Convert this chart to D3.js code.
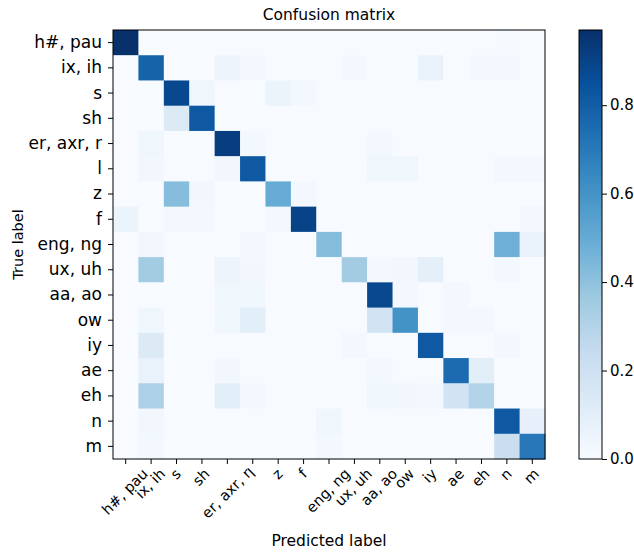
<!DOCTYPE html>
<html>
<head>
<meta charset="utf-8">
<script src="https://cdn.jsdelivr.net/npm/d3@7"></script>
<style>
  body { margin: 0; background: #fff; }
  svg text { font-family: "DejaVu Sans", sans-serif; fill: #000; }
</style>
</head>
<body>
<script>
// class names (rows = true label, columns = predicted label)
var classes = ["h#, pau", "ix, ih", "s", "sh", "er, axr, r", "l", "z", "f",
               "eng, ng", "ux, uh", "aa, ao", "ow", "iy", "ae", "eh", "n", "m"];

// normalised confusion matrix
var matrix = [
  [0.97,0.00,0.00,0.00,0.00,0.00,0.00,0.00,0.00,0.00,0.00,0.00,0.00,0.00,0.00,0.01,0.00],
  [0.00,0.78,0.00,0.00,0.05,0.02,0.00,0.00,0.00,0.02,0.00,0.00,0.07,0.00,0.02,0.02,0.00],
  [0.00,0.00,0.88,0.04,0.00,0.00,0.06,0.02,0.00,0.00,0.00,0.00,0.00,0.00,0.00,0.00,0.00],
  [0.00,0.00,0.13,0.82,0.00,0.00,0.00,0.00,0.00,0.00,0.00,0.00,0.00,0.00,0.00,0.00,0.00],
  [0.00,0.04,0.00,0.00,0.92,0.02,0.00,0.00,0.00,0.00,0.02,0.00,0.00,0.00,0.00,0.00,0.00],
  [0.00,0.03,0.00,0.00,0.03,0.82,0.00,0.00,0.00,0.00,0.04,0.04,0.00,0.00,0.00,0.02,0.02],
  [0.00,0.00,0.42,0.03,0.00,0.00,0.50,0.02,0.00,0.00,0.00,0.00,0.00,0.00,0.00,0.00,0.00],
  [0.06,0.00,0.02,0.02,0.00,0.00,0.02,0.90,0.00,0.00,0.00,0.00,0.00,0.00,0.00,0.00,0.02],
  [0.00,0.03,0.00,0.00,0.00,0.02,0.00,0.00,0.42,0.00,0.00,0.00,0.00,0.00,0.00,0.48,0.07],
  [0.00,0.35,0.00,0.00,0.05,0.03,0.00,0.00,0.00,0.35,0.02,0.03,0.09,0.00,0.00,0.02,0.00],
  [0.00,0.00,0.00,0.00,0.04,0.04,0.00,0.00,0.00,0.00,0.88,0.02,0.00,0.02,0.00,0.00,0.00],
  [0.00,0.04,0.00,0.00,0.04,0.10,0.00,0.00,0.00,0.00,0.18,0.60,0.00,0.02,0.02,0.00,0.00],
  [0.00,0.13,0.00,0.00,0.00,0.00,0.00,0.00,0.00,0.02,0.00,0.00,0.82,0.00,0.00,0.02,0.00],
  [0.00,0.07,0.00,0.00,0.03,0.00,0.00,0.00,0.00,0.00,0.02,0.00,0.00,0.75,0.10,0.00,0.00],
  [0.00,0.32,0.00,0.00,0.10,0.02,0.00,0.00,0.00,0.00,0.04,0.03,0.02,0.18,0.30,0.00,0.00],
  [0.00,0.03,0.00,0.00,0.00,0.00,0.00,0.00,0.04,0.00,0.00,0.00,0.00,0.00,0.00,0.82,0.08],
  [0.00,0.02,0.00,0.00,0.00,0.00,0.00,0.00,0.02,0.00,0.00,0.00,0.00,0.00,0.00,0.22,0.70]
];

var cbTicks = [0.0, 0.2, 0.4, 0.6, 0.8];
var vmax = 0.97;

var W = 634, H = 555;
var mLeft = 113, mTop = 30, mW = 432, mH = 429;
var svg = d3.select("body").append("svg").attr("width", W).attr("height", H);

// matplotlib "Blues"
var bluesStops = ["#f7fbff","#deebf7","#c6dbef","#9ecae1","#6baed6","#4292c6","#2171b5","#08519c","#08306b"];
var color = d3.scaleLinear()
    .domain(d3.range(bluesStops.length).map(function(i) { return vmax * i / (bluesStops.length - 1); }))
    .range(bluesStops)
    .clamp(true);

var x = d3.scaleBand().domain(d3.range(classes.length)).range([mLeft, mLeft + mW]);
var y = d3.scaleBand().domain(d3.range(classes.length)).range([mTop, mTop + mH]);

var cells = [];
matrix.forEach(function(row, i) {
  row.forEach(function(v, j) { cells.push({i: i, j: j, v: v}); });
});

svg.append("g").selectAll("rect").data(cells).enter().append("rect")
    .attr("x", function(d) { return x(d.j); })
    .attr("y", function(d) { return y(d.i); })
    .attr("width", x.bandwidth() + 0.5)
    .attr("height", y.bandwidth() + 0.5)
    .attr("fill", function(d) { return color(d.v); });

// y axis
var yAxis = svg.append("g").attr("transform", "translate(" + mLeft + ",0)")
    .call(d3.axisLeft(y).tickSize(5).tickPadding(6).tickFormat(function(i) { return classes[i]; }));
yAxis.select(".domain").remove();
yAxis.selectAll("text").style("font-size", "17px").style("font-family", "DejaVu Sans");

// x axis, labels rotated 45 deg and centred on the tick like matplotlib
var xAxis = svg.append("g").attr("transform", "translate(0," + (mTop + mH) + ")")
    .call(d3.axisBottom(x).tickSize(5).tickFormat(function(i) { return classes[i]; }));
xAxis.select(".domain").remove();
var fs = 14.5, asc = 0.76 * fs, desc = 0.24 * fs, s = Math.SQRT1_2;
xAxis.selectAll(".tick text")
    .style("font-size", fs + "px").style("font-family", "DejaVu Sans")
    .attr("text-anchor", "end").attr("dy", null).attr("y", 0)
    .attr("transform", function() {
      var w = this.getComputedTextLength();
      var cx = s * (desc - w - asc) / 2;
      return "translate(" + (-cx) + "," + (8 + s * asc) + ") rotate(-45)";
    });

svg.selectAll(".tick line").attr("stroke", "#000");

// frame
svg.append("rect").attr("x", mLeft).attr("y", mTop).attr("width", mW).attr("height", mH)
    .attr("fill", "none").attr("stroke", "#000").attr("stroke-width", 1);

// title and axis labels
svg.append("text").attr("x", mLeft + mW / 2).attr("y", 20).attr("text-anchor", "middle")
    .style("font-size", "15.5px").text("Confusion matrix");
svg.append("text").attr("x", mLeft + mW / 2).attr("y", 546).attr("text-anchor", "middle")
    .style("font-size", "15.5px").text("Predicted label");
svg.append("text").attr("transform", "translate(23," + (mTop + mH / 2) + ") rotate(-90)")
    .attr("text-anchor", "middle").style("font-size", "14.5px").text("True label");

// colour bar
var cbX = 579, cbW = 23;
var cbScale = d3.scaleLinear().domain([0, vmax]).range([mTop + mH, mTop]);
var defs = svg.append("defs");
var grad = defs.append("linearGradient").attr("id", "cb").attr("x1", 0).attr("y1", 1).attr("x2", 0).attr("y2", 0);
bluesStops.forEach(function(c, i) {
  grad.append("stop").attr("offset", i / (bluesStops.length - 1)).attr("stop-color", c);
});
svg.append("rect").attr("x", cbX).attr("y", mTop).attr("width", cbW).attr("height", mH)
    .attr("fill", "url(#cb)").attr("stroke", "#000").attr("stroke-width", 1);
var cbAxis = svg.append("g").attr("transform", "translate(" + (cbX + cbW) + ",0)")
    .call(d3.axisRight(cbScale).tickValues(cbTicks).tickSize(5).tickPadding(3).tickFormat(d3.format(".1f")));
cbAxis.select(".domain").remove();
cbAxis.selectAll("text").style("font-size", "15px").style("font-family", "DejaVu Sans");
cbAxis.selectAll("line").attr("stroke", "#000");
</script>
</body>
</html>
